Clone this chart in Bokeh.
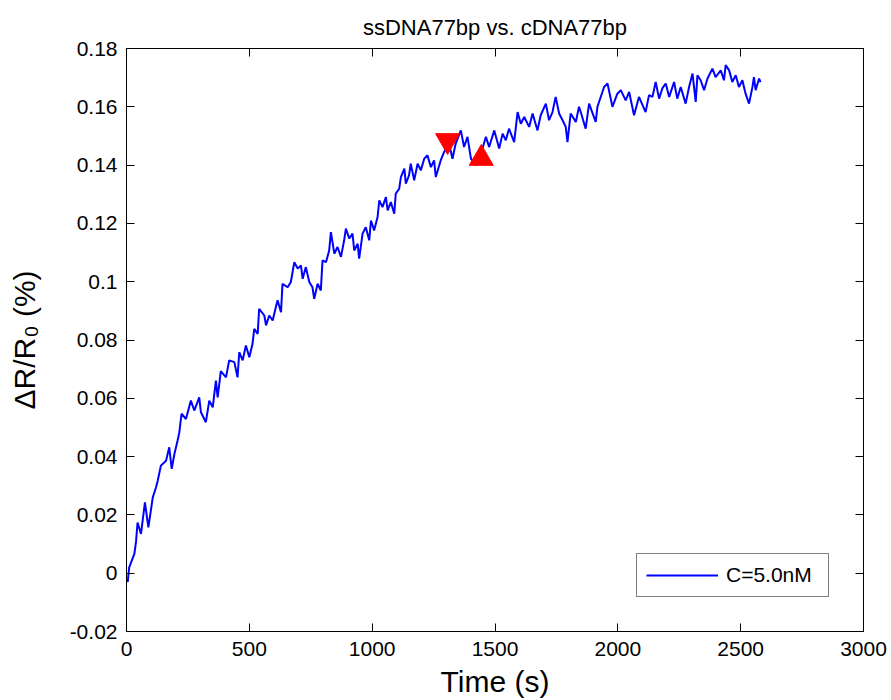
from bokeh.plotting import figure
from bokeh.models import (Range1d, LinearAxis, FixedTicker, Legend, LegendItem,
                          CustomJSTickFormatter)
from bokeh.embed import file_html
from bokeh.resources import INLINE

# ---- data ----
time_s = [0, 5, 11, 32, 39, 45, 59, 75, 89, 107, 120, 127, 140, 161, 174, 184, 195, 208, 215, 224,
          242, 262, 276, 296, 303, 323, 337, 351, 364, 371, 384, 405, 418, 439, 452, 459, 473, 486,
          500, 513, 520, 534, 540, 561, 568, 581, 595, 608, 615, 629, 635, 656, 669, 683, 697, 710,
          717, 730, 744, 757, 764, 778, 791, 798, 812, 825, 832, 846, 859, 873, 886, 893, 907, 920,
          927, 941, 947, 961, 974, 988, 995, 1008, 1022, 1029, 1042, 1056, 1063, 1076, 1090, 1096,
          1110, 1117, 1131, 1137, 1150, 1157, 1171, 1185, 1198, 1212, 1225, 1239, 1252, 1259, 1279,
          1293, 1313, 1327, 1340, 1361, 1374, 1388, 1402, 1422, 1449, 1463, 1476, 1497, 1517, 1531,
          1544, 1557, 1578, 1592, 1605, 1619, 1639, 1653, 1673, 1686, 1707, 1720, 1734, 1747, 1761,
          1775, 1788, 1795, 1808, 1829, 1842, 1849, 1869, 1883, 1910, 1917, 1944, 1958, 1978, 1998,
          2012, 2032, 2046, 2066, 2086, 2113, 2127, 2141, 2154, 2168, 2181, 2195, 2209, 2229, 2242,
          2256, 2276, 2290, 2304, 2317, 2324, 2337, 2351, 2365, 2385, 2398, 2419, 2432, 2439, 2453,
          2466, 2480, 2493, 2507, 2520, 2534, 2548, 2554, 2561, 2575, 2581]
dr_r0 = [-0.002, -0.003, 0.002, 0.0066, 0.011, 0.0174, 0.0135, 0.0243, 0.0157, 0.026, 0.0294, 0.0317,
         0.0369, 0.0386, 0.0432, 0.0358, 0.0409, 0.0455, 0.0483, 0.0547, 0.0529, 0.0592, 0.0558,
         0.0603, 0.0552, 0.0518, 0.0592, 0.0569, 0.0661, 0.0603, 0.0693, 0.0672, 0.0730, 0.0724,
         0.0672, 0.0758, 0.0730, 0.0781, 0.0741, 0.0787, 0.0838, 0.0821, 0.0907, 0.0884, 0.0850,
         0.0884, 0.0867, 0.0913, 0.0936, 0.0895, 0.0993, 0.0981, 0.0999, 0.1067, 0.1045, 0.1056,
         0.1010, 0.1050, 0.0999, 0.0981, 0.0941, 0.0993, 0.0970, 0.1073, 0.1067, 0.1107, 0.1170,
         0.1096, 0.1119, 0.1085, 0.1142, 0.1182, 0.1148, 0.1165, 0.1107, 0.1130, 0.1079, 0.1165,
         0.1187, 0.1142, 0.1210, 0.1176, 0.1222, 0.1279, 0.1256, 0.1290, 0.1245, 0.1273, 0.1233,
         0.1302, 0.1319, 0.1359, 0.1388, 0.1336, 0.1365, 0.1405, 0.1348, 0.1405, 0.1382, 0.1422,
         0.1434, 0.1393, 0.1416, 0.1359, 0.1416, 0.1445, 0.1474, 0.1422, 0.1474, 0.1519, 0.1462,
         0.1497, 0.1422, 0.1399, 0.1457, 0.1497, 0.1462, 0.1519, 0.1457, 0.1508, 0.1485, 0.1525,
         0.1479, 0.1582, 0.1542, 0.1565, 0.1531, 0.1577, 0.1519, 0.1571, 0.1611, 0.1554, 0.1582,
         0.1634, 0.1577, 0.1554, 0.1531, 0.1479, 0.1577, 0.1548, 0.1600, 0.1582, 0.1525, 0.1611,
         0.1548, 0.1600, 0.1668, 0.1680, 0.1600, 0.1645, 0.1657, 0.1622, 0.1651, 0.1571, 0.1634,
         0.1582, 0.1640, 0.1634, 0.1685, 0.1628, 0.1663, 0.1680, 0.1634, 0.1685, 0.1628, 0.1668,
         0.1611, 0.1668, 0.1714, 0.1617, 0.1708, 0.1691, 0.1657, 0.1697, 0.1731, 0.1702, 0.1725,
         0.1691, 0.1743, 0.1725, 0.1685, 0.1708, 0.1668, 0.1691, 0.1645, 0.1611, 0.1668, 0.1702,
         0.1657, 0.1697, 0.1685]

down_marker_t = [1307]
down_marker_y = [0.1484]
up_marker_t = [1444]
up_marker_y = [0.1423]

x_ticks = [0, 500, 1000, 1500, 2000, 2500, 3000]
x_tick_labels = ["0", "500", "1000", "1500", "2000", "2500", "3000"]
y_ticks = [-0.02, 0.0, 0.02, 0.04, 0.06, 0.08, 0.1, 0.12, 0.14, 0.16, 0.18]
y_tick_labels = ["-0.02", "0", "0.02", "0.04", "0.06", "0.08", "0.1", "0.12", "0.14", "0.16", "0.18"]

series_label = "C=5.0nM"
title_text = "ssDNA77bp vs. cDNA77bp"
x_label = "Time (s)"
y_label = "ΔR/R₀ (%)"

FONT = "Liberation Sans"

p = figure(width=891, height=700, output_backend="svg", toolbar_location=None,
           x_range=Range1d(0, 3000), y_range=Range1d(-0.02, 0.18),
           min_border_left=126, min_border_right=28, min_border_top=48, min_border_bottom=69,
           title=title_text)
p.title.text_font = FONT
p.title.text_font_size = "22px"
p.title.text_font_style = "normal"
p.title.align = "center"
p.title.text_color = "black"
p.title.standoff = 17
p.xgrid.visible = False
p.ygrid.visible = False
p.outline_line_color = "black"
p.outline_line_width = 1
p.background_fill_color = "white"
p.border_fill_color = "white"

line = p.line(time_s, dr_r0, line_color="#0000FF", line_width=2)
p.scatter(down_marker_t, down_marker_y, marker="inverted_triangle", size=24,
          fill_color="#FF0000", line_color="#FF0000")
p.scatter(up_marker_t, up_marker_y, marker="triangle", size=24,
          fill_color="#FF0000", line_color="#FF0000")


def style_axis(ax, ticks, labels, show_labels, standoff=9):
    ax.ticker = FixedTicker(ticks=ticks)
    ax.minor_tick_line_color = None
    ax.major_tick_in = 8
    ax.major_tick_out = 0
    ax.axis_line_color = "black"
    ax.axis_line_width = 1
    ax.major_tick_line_color = "black"
    ax.major_tick_line_width = 1
    if show_labels:
        ax.major_label_overrides = {t: s for t, s in zip(ticks, labels)}
        ax.major_label_text_font = FONT
        ax.major_label_text_font_size = "21px"
        ax.major_label_text_color = "black"
        ax.major_label_standoff = standoff
    else:
        ax.formatter = CustomJSTickFormatter(code="return ''")
        ax.major_label_standoff = 0
        ax.major_label_text_font_size = "1px"


style_axis(p.xaxis[0], x_ticks, x_tick_labels, True, standoff=10)
style_axis(p.yaxis[0], y_ticks, y_tick_labels, True, standoff=9)
p.xaxis[0].axis_label = x_label
p.yaxis[0].axis_label = y_label
for ax, st in ((p.xaxis[0], 6), (p.yaxis[0], 26)):
    ax.axis_label_text_font = FONT
    ax.axis_label_text_font_size = "30px"
    ax.axis_label_text_font_style = "normal"
    ax.axis_label_text_color = "black"
    ax.axis_label_standoff = st

top_ax = LinearAxis()
style_axis(top_ax, x_ticks, x_tick_labels, False)
p.add_layout(top_ax, "above")
right_ax = LinearAxis()
style_axis(right_ax, y_ticks, y_tick_labels, False)
p.add_layout(right_ax, "right")

legend = Legend(items=[LegendItem(label=series_label, renderers=[line])],
                location=(510, 34), orientation="vertical",
                border_line_color="black", border_line_width=1,
                background_fill_color="white", background_fill_alpha=1.0,
                padding=9, spacing=0, margin=0,
                glyph_width=72, glyph_height=20, label_standoff=8, label_width=93,
                label_text_font=FONT, label_text_font_size="21px", label_text_color="black")
p.add_layout(legend)

open("out.html", "w").write(file_html(p, INLINE))
